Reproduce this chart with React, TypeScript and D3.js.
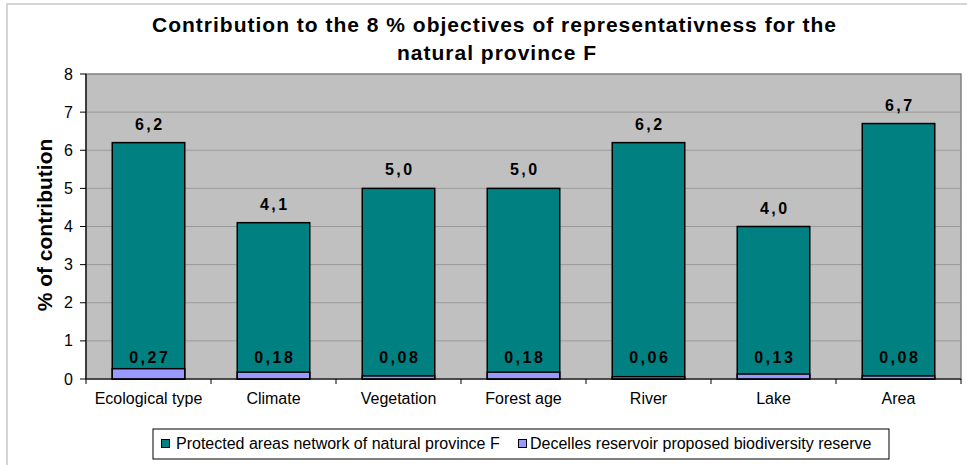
import React from "react";
import { scaleBand, scaleLinear } from "d3";

const categories = ["Ecological type", "Climate", "Vegetation", "Forest age", "River", "Lake", "Area"];
const protectedValues = [6.2, 4.1, 5.0, 5.0, 6.2, 4.0, 6.7];
const decellesValues = [0.27, 0.18, 0.08, 0.18, 0.06, 0.13, 0.08];
const yTicks = [0, 1, 2, 3, 4, 5, 6, 7, 8];
const seriesNames = [
  "Protected areas network of natural province F",
  "Decelles reservoir proposed biodiversity reserve",
];

const width = 967;
const height = 465;
const plot = { left: 86, right: 961, top: 74, bottom: 379 };
const TEAL = "#008080";
const PURPLE = "#9999FF";
const font = "Arial, 'Liberation Sans', sans-serif";

const fmt = (v: number, digits: number) => v.toFixed(digits).replace(".", ",");

export default function App() {
  const x = scaleBand<string>().domain(categories).range([plot.left, plot.right]).paddingInner(0.42).paddingOuter(0.21);
  const band = scaleBand<string>().domain(categories).range([plot.left, plot.right]);
  const y = scaleLinear().domain([0, 8]).range([plot.bottom, plot.top]);
  const ls = 2.5;

  return (
    <svg
      width={width}
      height={height}
      style={{ position: "absolute", left: 0, top: 0, background: "#fff" }}
      fontFamily={font}
    >
      {/* chart area border (only top/left visible) */}
      <rect x={7} y={4} width={980} height={480} fill="#fff" stroke="#c8c8c8" strokeWidth={1.5} />

      {/* title */}
      <text x={494.5} y={31.5} textAnchor="middle" fontSize={21} fontWeight="bold" letterSpacing={1}>
        Contribution to the 8 % objectives of representativness for the
      </text>
      <text x={497} y={60} textAnchor="middle" fontSize={21} fontWeight="bold" letterSpacing={1}>
        natural province F
      </text>

      {/* plot area */}
      <rect x={plot.left} y={plot.top} width={plot.right - plot.left} height={plot.bottom - plot.top} fill="#C0C0C0" stroke="#808080" strokeWidth={1.5} />
      {yTicks.slice(1, -1).map((t) => (
        <line key={t} x1={plot.left} x2={plot.right} y1={y(t)} y2={y(t)} stroke="#9a9a9a" strokeWidth={1} />
      ))}

      {/* bars */}
      {categories.map((c, i) => (
        <g key={c}>
          <rect x={x(c)} y={y(protectedValues[i])} width={x.bandwidth()} height={y(0) - y(protectedValues[i])} fill={TEAL} stroke="#000" strokeWidth={1.5} />
          <rect x={x(c)} y={y(decellesValues[i])} width={x.bandwidth()} height={y(0) - y(decellesValues[i])} fill={PURPLE} stroke="#000" strokeWidth={1.5} />
          <text x={x(c)! + x.bandwidth() / 2 + ls / 2} y={y(protectedValues[i]) - 13} textAnchor="middle" fontSize={16} fontWeight="bold" letterSpacing={ls}>
            {fmt(protectedValues[i], 1)}
          </text>
          <text x={x(c)! + x.bandwidth() / 2 + ls / 2} y={y(0) - 16} textAnchor="middle" fontSize={16} fontWeight="bold" letterSpacing={ls}>
            {fmt(decellesValues[i], 2)}
          </text>
        </g>
      ))}

      {/* y axis */}
      <line x1={plot.left} x2={plot.left} y1={plot.top} y2={plot.bottom} stroke="#000" strokeWidth={1.2} />
      {yTicks.map((t) => (
        <g key={t}>
          <line x1={plot.left - 6} x2={plot.left} y1={y(t)} y2={y(t)} stroke="#000" />
          <text x={73} y={y(t) + 5.5} textAnchor="end" fontSize={16}>{t}</text>
        </g>
      ))}
      <text transform={`translate(52, 225) rotate(-90)`} textAnchor="middle" fontSize={21} fontWeight="bold">
        % of contribution
      </text>

      {/* x axis */}
      <line x1={plot.left} x2={plot.right} y1={plot.bottom} y2={plot.bottom} stroke="#000" strokeWidth={1.2} />
      {categories.map((c) => (
        <line key={c} x1={band(c)} x2={band(c)} y1={plot.bottom} y2={plot.bottom + 5} stroke="#000" />
      ))}
      <line x1={plot.right} x2={plot.right} y1={plot.bottom} y2={plot.bottom + 5} stroke="#000" />
      {categories.map((c) => (
        <text key={c} x={band(c)! + band.bandwidth() / 2} y={404} textAnchor="middle" fontSize={16}>
          {c}
        </text>
      ))}

      {/* legend */}
      <rect x={153} y={429} width={736} height={30} fill="#fff" stroke="#000" strokeWidth={1} />
      <rect x={161.5} y={439.5} width={8} height={8} fill={TEAL} stroke="#000" strokeWidth={1} />
      <text x={176} y={448.5} fontSize={16}>{seriesNames[0]}</text>
      <rect x={518.5} y={439.5} width={8} height={8} fill={PURPLE} stroke="#000" strokeWidth={1} />
      <text x={530} y={448.5} fontSize={16}>{seriesNames[1]}</text>
    </svg>
  );
}
